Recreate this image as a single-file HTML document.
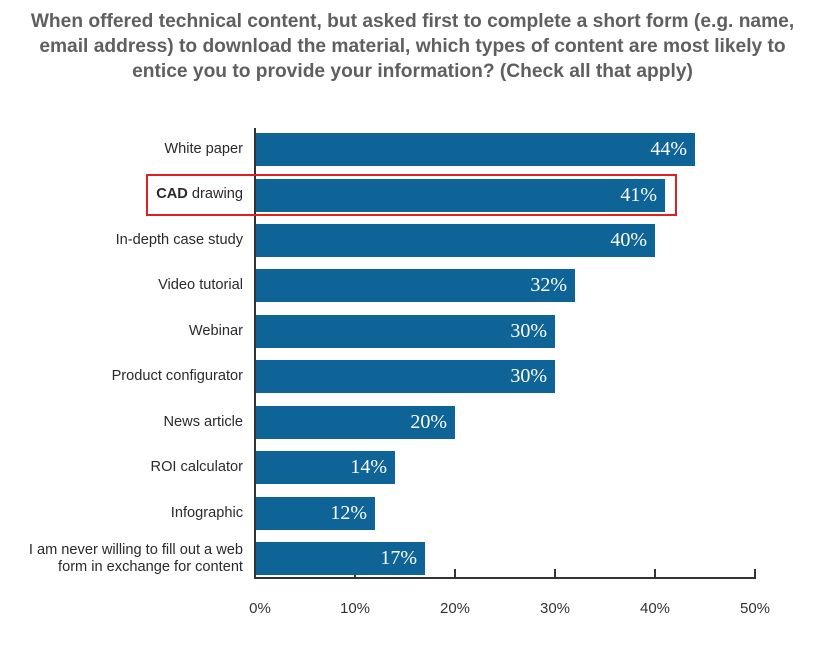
<!DOCTYPE html>
<html><head><style>
body{margin:0;width:825px;height:649px;background:#fff;position:relative;font-family:"Liberation Sans",sans-serif;overflow:hidden}
.t{position:absolute;left:0;width:825px;top:9px;text-align:center;font-weight:bold;font-size:19.2px;line-height:25px;color:#5f5f5f}
.l{position:absolute;right:582px;font-size:14.6px;color:#2a2a2a;text-align:right;line-height:17px}
.b{position:absolute;left:256px;height:33px;background:#0e6496;color:#fff;font-family:"Liberation Serif",serif;font-size:20px;text-align:right;box-sizing:border-box;padding-right:8px;line-height:33px}
.k{position:absolute;font-size:15px;color:#333;top:600px;width:60px;text-align:center}
</style></head><body>
<div class="t">When offered technical content, but asked first to complete a short form (e.g. name,<br>email address) to download the material, which types of content are most likely to<br>entice you to provide your information? (Check all that apply)</div>
<div style="position:absolute;left:254px;top:128px;width:2px;height:451px;background:#333"></div>
<div style="position:absolute;left:254px;top:577px;width:502px;height:2px;background:#333"></div>
<div style="position:absolute;left:354px;top:569px;width:2px;height:9px;background:#333"></div>
<div style="position:absolute;left:454px;top:569px;width:2px;height:9px;background:#333"></div>
<div style="position:absolute;left:554px;top:569px;width:2px;height:9px;background:#333"></div>
<div style="position:absolute;left:654px;top:569px;width:2px;height:9px;background:#333"></div>
<div style="position:absolute;left:754px;top:569px;width:2px;height:9px;background:#333"></div>

<div class="b" style="top:133px;width:439px">44%</div>
<div class="b" style="top:179px;width:409px">41%</div>
<div class="b" style="top:224px;width:399px">40%</div>
<div class="b" style="top:269px;width:319px">32%</div>
<div class="b" style="top:315px;width:299px">30%</div>
<div class="b" style="top:360px;width:299px">30%</div>
<div class="b" style="top:406px;width:199px">20%</div>
<div class="b" style="top:451px;width:139px">14%</div>
<div class="b" style="top:497px;width:119px">12%</div>
<div class="b" style="top:542px;width:169px">17%</div>

<div style="position:absolute;left:146px;top:174px;width:527px;height:38px;border:2px solid #e02020"></div>

<div class="l" style="top:141px">White paper</div>
<div class="l" style="top:186px"><b>CAD</b> drawing</div>
<div class="l" style="top:232px">In-depth case study</div>
<div class="l" style="top:277px">Video tutorial</div>
<div class="l" style="top:323px">Webinar</div>
<div class="l" style="top:368px">Product configurator</div>
<div class="l" style="top:414px">News article</div>
<div class="l" style="top:459px">ROI calculator</div>
<div class="l" style="top:505px">Infographic</div>
<div class="l" style="top:542px">I am never willing to fill out a web<br>form in exchange for content</div>

<div class="k" style="left:230px">0%</div>
<div class="k" style="left:325px">10%</div>
<div class="k" style="left:425px">20%</div>
<div class="k" style="left:525px">30%</div>
<div class="k" style="left:625px">40%</div>
<div class="k" style="left:725px">50%</div>
</body></html>
